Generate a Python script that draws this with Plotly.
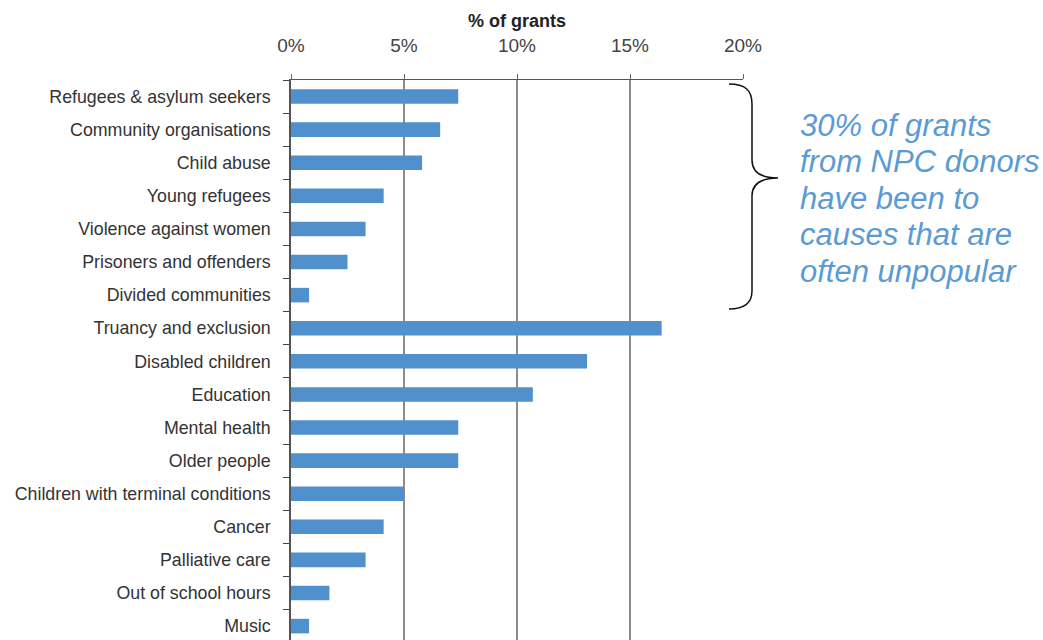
import plotly.graph_objects as go

categories = [
    "Refugees & asylum seekers", "Community organisations", "Child abuse",
    "Young refugees", "Violence against women", "Prisoners and offenders",
    "Divided communities", "Truancy and exclusion", "Disabled children",
    "Education", "Mental health", "Older people",
    "Children with terminal conditions", "Cancer", "Palliative care",
    "Out of school hours", "Music",
]
values = [7.4, 6.6, 5.8, 4.1, 3.3, 2.5, 0.8, 16.4, 13.1, 10.7, 7.4, 7.4,
          5.0, 4.1, 3.3, 1.7, 0.8]
x_ticks = [0, 5, 10, 15, 20]
x_tick_labels = ["0%", "5%", "10%", "15%", "20%"]
note_lines = ["30% of grants", "from NPC donors", "have been to",
              "causes that are", "often unpopular"]

W, H = 1043, 640
L, R, T, B = 291, 300, 80, 0
pw, ph = W - L - R, H - T - B


def px(xp):
    return (xp - L) / pw


def py(yp):
    return (H - B - yp) / ph


fig = go.Figure(go.Bar(
    x=values, y=categories, orientation="h",
    marker=dict(color="#4F90CD", line=dict(width=0)),
    hoverinfo="skip",
))

# brace path in paper coords
pts = [
    ("M", [(729, 84)]),
    ("C", [(745, 84), (752, 90), (752, 104)]),
    ("L", [(752, 160)]),
    ("C", [(752, 172), (760, 178), (778, 178)]),
    ("C", [(760, 178), (752, 184), (752, 196)]),
    ("L", [(752, 291)]),
    ("C", [(752, 303), (745, 309), (729, 309)]),
]
path = " ".join(
    cmd + " " + " ".join(f"{px(a):.5f},{py(b):.5f}" for a, b in p)
    for cmd, p in pts
)

fig.update_layout(
    width=W, height=H,
    margin=dict(l=L, r=R, t=T, b=B, autoexpand=False),
    paper_bgcolor="white", plot_bgcolor="white",
    showlegend=False,
    bargap=0.56,
    font=dict(family="Liberation Sans, Arial, sans-serif", color="#333"),
    xaxis=dict(
        side="top", range=[0, 20], tickvals=x_ticks, ticktext=x_tick_labels,
        tickfont=dict(size=19, color="#444"),
        showgrid=True, gridcolor="#8c8c8c", gridwidth=1.5,
        showline=True, linecolor="#555", linewidth=1,
        ticks="outside", ticklen=5, tickcolor="#666",
        zeroline=False, fixedrange=True, automargin=False,
        ticklabelstandoff=14,
        title=dict(text="<b>% of grants</b>", font=dict(size=18, color="#222"),
                   standoff=3),
    ),
    yaxis=dict(
        type="category", categoryorder="array", categoryarray=categories,
        range=[16.42, -0.5],
        tickfont=dict(size=17.8, color="#333"),
        showline=True, linecolor="#555", linewidth=1.5,
        ticks="outside", tickson="boundaries", ticklen=6, tickcolor="#444",
        showgrid=False, zeroline=False, fixedrange=True, automargin=False,
        ticklabelstandoff=15,
    ),
    shapes=[dict(type="path", path=path, xref="paper", yref="paper",
                 line=dict(color="#111", width=1.5))],
    annotations=[
        dict(text=line, xref="paper", yref="paper", x=px(798),
             y=py(125 + i * 36.6), xanchor="left", yanchor="middle",
             showarrow=False,
             font=dict(size=31, color="#5B9BD5", style="italic",
                       family="Liberation Sans, Arial, sans-serif"))
        for i, line in enumerate(note_lines)
    ],
)

fig.write_html("out.html", config={"displayModeBar": False})

# remove the default page margin so the figure sits at the window's corner
with open("out.html", encoding="utf-8") as f:
    html = f.read()
html = html.replace("<body>", '<body style="margin:0;overflow:hidden">', 1)
with open("out.html", "w", encoding="utf-8") as f:
    f.write(html)
